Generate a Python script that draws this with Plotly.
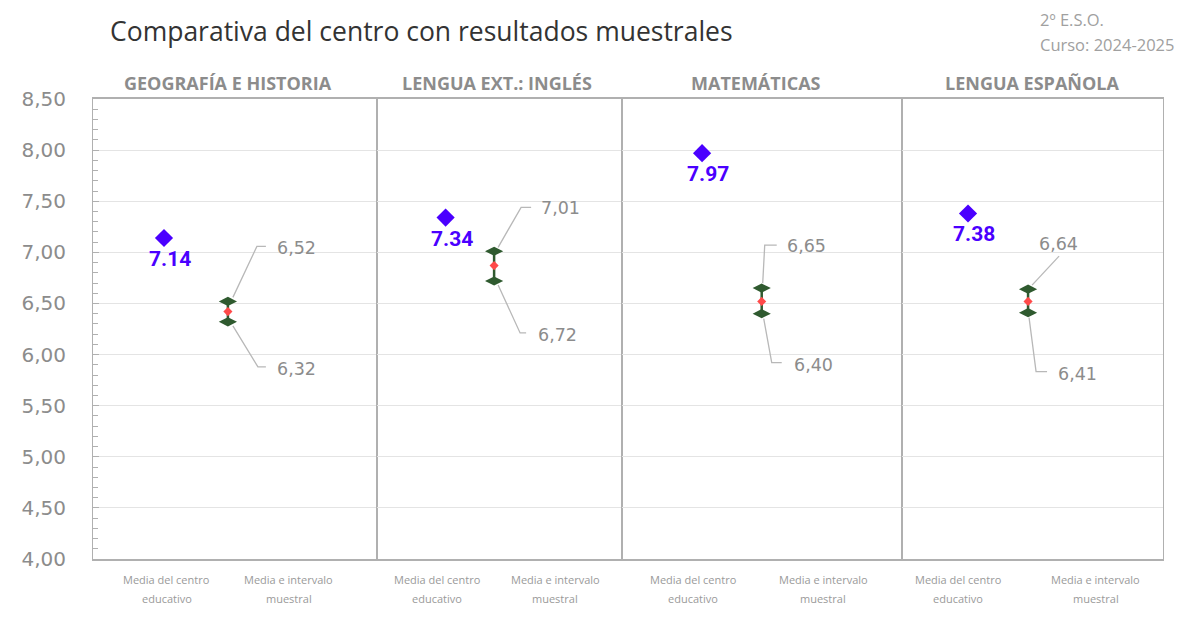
import plotly.graph_objects as go

# ---------------- data ----------------
subjects = ["GEOGRAFÍA E HISTORIA", "LENGUA EXT.: INGLÉS", "MATEMÁTICAS", "LENGUA ESPAÑOLA"]
centro = [7.14, 7.34, 7.97, 7.38]          # Media del centro educativo
upper = [6.52, 7.01, 6.65, 6.64]           # intervalo muestral (límite superior)
lower = [6.32, 6.72, 6.40, 6.41]           # intervalo muestral (límite inferior)
media_muestral = [6.42, 6.87, 6.52, 6.52]  # media muestral (punto rojo)
cat_labels = [["Media del centro", "educativo"], ["Media e intervalo", "muestral"]]
title_text = "Comparativa del centro con resultados muestrales"
info_lines = ["2º E.S.O.", "Curso: 2024-2025"]

# ---------------- layout constants ----------------
W, H = 1195, 620
OX, OY = 8, 8                      # page body margin
PL, PR, PT, PB = 93, 1163, 99, 559  # target plot box on screen
ML, MT = PL - OX, PT - OY
PW, PH = PR - PL, PB - PT
MR, MB = W - ML - PW, H - MT - PH
panel_px = [93, 377, 622, 902, 1163]
domains = [[(panel_px[i] - PL) / PW, (panel_px[i + 1] - PL) / PW] for i in range(4)]
pos_centro = [0.25, 0.28, 0.286, 0.253]
pos_interv = [0.475, 0.478, 0.499, 0.483]
pos_cat = [[0.26, 0.69], [0.245, 0.727], [0.254, 0.718], [0.215, 0.743]]
title_pos = [0.475, 0.49, 0.479, 0.498]

up_leader = [[(5, -4), (29, -55), (38, -55)], [(4, -4), (27, -44), (37, -44)],
             [(1, -5), (3, -43), (15, -43)], [(4, -4), (31, -33)]]
up_text = [(47, -53), (45, -43), (23, -42), (9, -45)]
lo_leader = [[(5, 4), (30, 45), (38, 45)], [(4, 4), (26, 52), (32, 52)],
             [(2, 5), (10, 49), (20, 49)], [(1, 5), (8, 59), (19, 59)]]
lo_text = [(47, 47), (42, 54), (30, 51), (28, 61)]

BLUE = "#4a00ff"
GREEN = "#2f5a2f"
RED = "#ff4a4a"
GRAY_AX = "#b0b0b0"
GRAY_TXT = "#8c8c8c"

fig = go.Figure()
shapes = []
annotations = []

for i in range(4):
    xa = "x" if i == 0 else f"x{i+1}"
    ya = "y" if i == 0 else f"y{i+1}"
    fig.add_trace(go.Scatter(
        x=[pos_centro[i]], y=[centro[i]], xaxis=xa, yaxis=ya,
        mode="markers",
        marker=dict(symbol="diamond", size=14, color=BLUE),
        showlegend=False, hoverinfo="skip"))
    annotations.append(dict(x=pos_centro[i], y=centro[i], xref=xa, yref=ya,
                            text=f"{centro[i]:.2f}", showarrow=False,
                            xanchor="center", yanchor="middle", xshift=6, yshift=-21,
                            font=dict(family="Roboto", size=21, color=BLUE, weight="bold")))
    fig.add_trace(go.Scatter(
        x=[pos_interv[i], pos_interv[i]], y=[lower[i], upper[i]], xaxis=xa, yaxis=ya,
        mode="lines+markers",
        line=dict(color=GREEN, width=2.5),
        marker=dict(symbol="diamond-wide", size=13, color=GREEN),
        showlegend=False, hoverinfo="skip"))
    fig.add_trace(go.Scatter(
        x=[pos_interv[i]], y=[media_muestral[i]], xaxis=xa, yaxis=ya,
        mode="markers",
        marker=dict(symbol="diamond", size=7, color=RED),
        showlegend=False, hoverinfo="skip"))

    for val, pts in ((upper[i], up_leader[i]), (lower[i], lo_leader[i])):
        path = "M " + " L ".join(f"{px},{-py}" for px, py in pts)
        shapes.append(dict(type="path", xref=xa, yref=ya, xsizemode="pixel", ysizemode="pixel",
                           xanchor=pos_interv[i], yanchor=val, path=path,
                           line=dict(color="#b8b8b8", width=1.3)))
    for val, (tx, ty) in ((upper[i], up_text[i]), (lower[i], lo_text[i])):
        annotations.append(dict(x=pos_interv[i], y=val, xref=xa, yref=ya,
                                text=f"{val:.2f}".replace(".", ","), showarrow=False,
                                xanchor="left", yanchor="middle", xshift=tx, yshift=-ty,
                                font=dict(family="DejaVu Sans", size=17.5, color=GRAY_TXT)))
    annotations.append(dict(x=title_pos[i], y=1, xref=f"{xa} domain", yref="paper",
                            text=subjects[i], showarrow=False, xanchor="center", yanchor="middle",
                            yshift=PT - 83, font=dict(family="Open Sans", size=18, color=GRAY_TXT,
                                                      weight="bold")))
    for k in range(2):
        for line_no, txt in enumerate(cat_labels[k]):
            annotations.append(dict(x=pos_cat[i][k], y=0, xref=xa, yref="paper",
                                    text=txt, showarrow=False, xanchor="center", yanchor="middle",
                                    yshift=-(579 - PB) - 19 * line_no,
                                    font=dict(family="Open Sans", size=11, color="#9a9a9a")))

annotations.append(dict(x=(108 - PL) / PW, y=1, xref="paper", yref="paper", text=title_text,
                        showarrow=False, xanchor="left", yanchor="middle", yshift=PT - 31,
                        font=dict(family="Open Sans", size=26.5, color="#333333")))
for j, line in enumerate(info_lines):
    annotations.append(dict(x=(1038 - PL) / PW, y=1, xref="paper", yref="paper", text=line,
                            showarrow=False, xanchor="left", yanchor="middle",
                            yshift=PT - (19 + 25 * j),
                            font=dict(family="Open Sans", size=16.5, color="#a0a0a0")))

layout = dict(
    width=W, height=H, margin=dict(l=ML, r=MR, t=MT, b=MB),
    paper_bgcolor="white", plot_bgcolor="white",
    separators=",.", shapes=shapes, annotations=annotations,
    showlegend=False,
)
for i in range(4):
    xk = "xaxis" if i == 0 else f"xaxis{i+1}"
    yk = "yaxis" if i == 0 else f"yaxis{i+1}"
    layout[xk] = dict(domain=domains[i], range=[0, 1], showgrid=False, zeroline=False,
                      showticklabels=False, ticks="", showline=True, mirror=True,
                      linecolor=GRAY_AX, linewidth=2, anchor="y" if i == 0 else f"y{i+1}",
                      fixedrange=True)
    yd = dict(range=[4, 8.5], dtick=0.5, tick0=4, tickformat=".2f", showgrid=True,
              gridcolor="#e4e4e4", gridwidth=1, zeroline=False, showline=True, mirror=True,
              linecolor=GRAY_AX, linewidth=1.1,
              anchor="x" if i == 0 else f"x{i+1}", fixedrange=True)
    if i == 0:
        yd.update(showticklabels=True, ticks="inside", ticklen=6, tickcolor=GRAY_AX,
                  tickfont=dict(family="DejaVu Sans", size=20, color=GRAY_TXT),
                  ticklabelstandoff=22,
                  minor=dict(dtick=0.1, ticks="inside", ticklen=5, tickcolor=GRAY_AX, showgrid=False))
    else:
        yd.update(showticklabels=False, ticks="", matches="y")
    layout[yk] = yd

fig.update_layout(**layout)
fig.write_html("out.html")
